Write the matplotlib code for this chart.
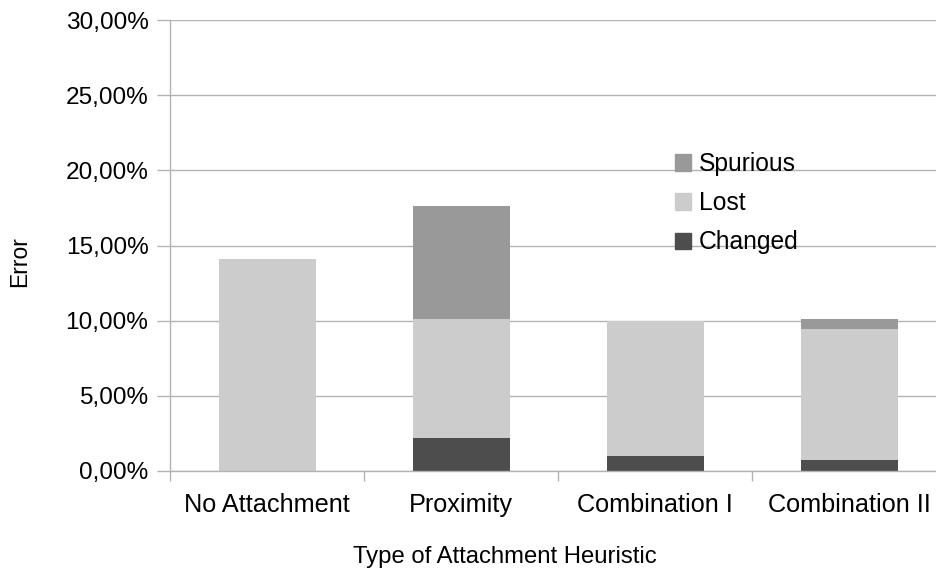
import matplotlib
matplotlib.use("Agg")
import matplotlib.pyplot as plt
from matplotlib.ticker import FuncFormatter, FixedLocator
from matplotlib.patches import Patch

plt.rcParams['font.family'] = ['Liberation Sans', 'DejaVu Sans']

categories = ['No Attachment', 'Proximity', 'Combination I', 'Combination II']
changed = [0.0, 2.22, 1.00, 0.73]
lost = [14.07, 7.91, 8.95, 8.74]
spurious = [0.0, 7.47, 0.0, 0.66]

c_changed = '#4d4d4d'
c_lost = '#cccccc'
c_spur = '#999999'
grid_c = '#b3b3b3'

W, H = 936, 572
fig = plt.figure(figsize=(W / 100, H / 100), dpi=100)
# axes box in pixels: left 170, right 946 (runs past the image edge), top 20, bottom 471
ax = fig.add_axes([170 / W, (H - 471) / H, 776 / W, 451 / H])

x = list(range(len(categories)))
bottom2 = [c + l for c, l in zip(changed, lost)]
ax.bar(x, changed, width=0.5, color=c_changed, zorder=3)
ax.bar(x, lost, width=0.5, bottom=changed, color=c_lost, zorder=3)
ax.bar(x, spurious, width=0.5, bottom=bottom2, color=c_spur, zorder=3)

ax.set_xlim(-0.5, len(categories) - 0.5)
ax.set_ylim(0, 30)
ax.set_yticks([0, 5, 10, 15, 20, 25, 30])
ax.yaxis.set_major_formatter(FuncFormatter(lambda v, p: f"{v:.2f}%".replace('.', ',')))
ax.grid(axis='y', color=grid_c, linewidth=1, zorder=0)

ax.xaxis.set_major_locator(FixedLocator([i - 0.5 for i in range(len(categories) + 1)]))
ax.xaxis.set_major_formatter(FuncFormatter(lambda v, p: ''))
ax.xaxis.set_minor_locator(FixedLocator(x))
ax.set_xticklabels(categories, minor=True)
ax.tick_params(axis='x', which='major', length=7.5, color=grid_c, width=1)
ax.tick_params(axis='x', which='minor', length=0, pad=16, labelsize=18.2)
ax.tick_params(axis='y', length=9.5, color=grid_c, width=1, pad=6, labelsize=17.6)

for s in ['top', 'right']:
    ax.spines[s].set_visible(False)
for s in ['left', 'bottom']:
    ax.spines[s].set_color(grid_c)
    ax.spines[s].set_linewidth(1)
    ax.spines[s].set_zorder(4)

fig.text(20 / W, 1 - 262 / H, 'Error', rotation=90, ha='center', va='center', fontsize=16.5)
fig.text(505 / W, 1 - 557 / H, 'Type of Attachment Heuristic', ha='center', va='center', fontsize=17.2)

handles = [Patch(color=c_spur), Patch(color=c_lost), Patch(color=c_changed)]
fig.legend(handles, ['Spurious', 'Lost', 'Changed'], loc='upper left',
           bbox_to_anchor=(675 / W, 1 - 152 / H), frameon=False, fontsize=17.7,
           handlelength=0.65, handleheight=0.65, handletextpad=0.33,
           labelspacing=0.62, borderpad=0, borderaxespad=0)

fig.savefig('out.png', dpi=100)
